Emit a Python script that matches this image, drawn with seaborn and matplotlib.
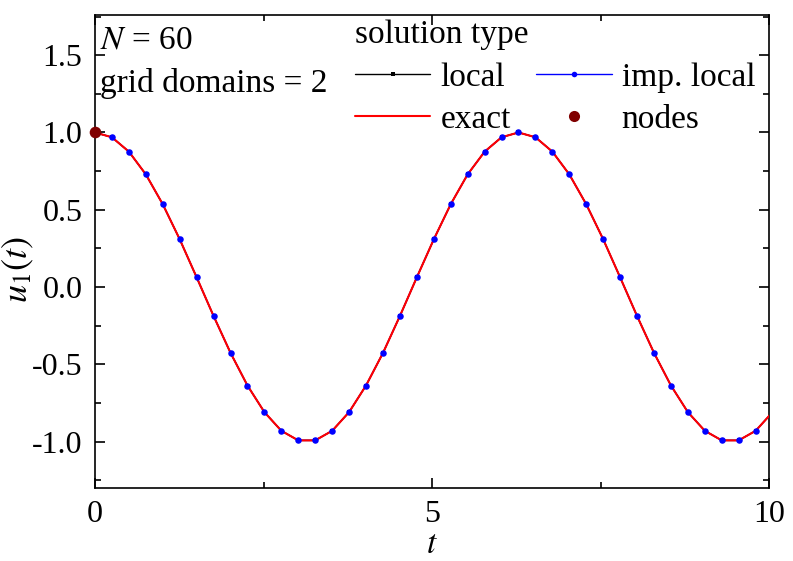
import matplotlib
matplotlib.use("Agg")
import matplotlib.pyplot as plt
from matplotlib.lines import Line2D
from matplotlib.ticker import MultipleLocator
import seaborn as sns
import pandas as pd

# ---- data ----
t_vals = [0.000, 0.251, 0.503, 0.754, 1.005, 1.257, 1.508, 1.759, 2.011, 2.262,
          2.513, 2.765, 3.016, 3.267, 3.519, 3.770, 4.021, 4.273, 4.524, 4.775,
          5.027, 5.278, 5.529, 5.781, 6.032, 6.283, 6.535, 6.786, 7.037, 7.288,
          7.540, 7.791, 8.042, 8.294, 8.545, 8.796, 9.048, 9.299, 9.550, 9.802,
          10.053]
u_local = [1.000, 0.969, 0.876, 0.729, 0.536, 0.309, 0.063, -0.187, -0.426, -0.637,
           -0.809, -0.930, -0.992, -0.992, -0.930, -0.809, -0.637, -0.426, -0.187, 0.063,
           0.309, 0.536, 0.729, 0.876, 0.969, 1.000, 0.969, 0.876, 0.729, 0.536,
           0.309, 0.063, -0.187, -0.426, -0.637, -0.809, -0.930, -0.992, -0.992, -0.930,
           -0.809]
u_imp_local = [1.000, 0.969, 0.876, 0.729, 0.536, 0.309, 0.063, -0.187, -0.426, -0.637,
               -0.809, -0.930, -0.992, -0.992, -0.930, -0.809, -0.637, -0.426, -0.187, 0.063,
               0.309, 0.536, 0.729, 0.876, 0.969, 1.000, 0.969, 0.876, 0.729, 0.536,
               0.309, 0.063, -0.187, -0.426, -0.637, -0.809, -0.930, -0.992, -0.992, -0.930,
               -0.809]
u_exact = [1.000, 0.969, 0.876, 0.729, 0.536, 0.309, 0.063, -0.187, -0.426, -0.637,
           -0.809, -0.930, -0.992, -0.992, -0.930, -0.809, -0.637, -0.426, -0.187, 0.063,
           0.309, 0.536, 0.729, 0.876, 0.969, 1.000, 0.969, 0.876, 0.729, 0.536,
           0.309, 0.063, -0.187, -0.426, -0.637, -0.809, -0.930, -0.992, -0.992, -0.930,
           -0.809]
t_nodes = [0.0]
u_nodes = [1.0]

legend_labels = ["local", "imp. local", "exact", "nodes"]
legend_title = "solution type"
info_lines = ["$N$ = 60", "grid domains = 2"]

df = pd.DataFrame({"t": t_vals, "local": u_local, "imp": u_imp_local, "exact": u_exact})
df_nodes = pd.DataFrame({"t": t_nodes, "u": u_nodes})

sns.set_style("white")
plt.rcParams["font.family"] = ["Liberation Serif", "DejaVu Serif"]
plt.rcParams["mathtext.fontset"] = "stix"
plt.rcParams["text.color"] = "black"
plt.rcParams["axes.labelcolor"] = "black"
plt.rcParams["xtick.color"] = "black"
plt.rcParams["ytick.color"] = "black"
FS = 24
TFS = 23

fig = plt.figure(figsize=(7.93, 5.61), dpi=100)
ax = fig.add_axes([95 / 793, 1 - 488 / 561, 674 / 793, 473 / 561])

sns.lineplot(data=df, x="t", y="local", ax=ax, color="black", lw=1.0,
             marker="s", markersize=3, markeredgewidth=0, zorder=2, sort=False)
sns.lineplot(data=df, x="t", y="imp", ax=ax, color="blue", lw=1.0, zorder=2.1, sort=False)
sns.lineplot(data=df, x="t", y="exact", ax=ax, color="red", lw=1.5, zorder=3, sort=False)
sns.scatterplot(data=df, x="t", y="imp", ax=ax, color="blue", s=22, linewidth=0, zorder=4)
sns.scatterplot(data=df_nodes, x="t", y="u", ax=ax, color="#800000", s=70,
                linewidth=0, zorder=5, clip_on=False)

ax.set_xlim(0, 10)
ax.set_ylim(-1.30, 1.76)
ax.xaxis.set_major_locator(MultipleLocator(5))
ax.xaxis.set_minor_locator(MultipleLocator(2.5))
ax.yaxis.set_major_locator(MultipleLocator(0.5))
ax.yaxis.set_minor_locator(MultipleLocator(0.25))
ax.tick_params(which="both", direction="in", top=True, right=True,
               bottom=True, left=True, width=1.2, labelsize=TFS, pad=9)
ax.tick_params(which="major", length=7)
ax.tick_params(which="minor", length=4)
ax.set_yticks([-1.0, -0.5, 0.0, 0.5, 1.0, 1.5])
ax.set_yticklabels(["-1.0", "-0.5", "0.0", "0.5", "1.0", "1.5"])
ax.set_xticks([0, 5, 10])
ax.set_xticklabels(["0", "5", "10"])
for s in ax.spines.values():
    s.set_linewidth(1.2)
    s.set_color("black")

ax.set_xlabel("$t$", fontsize=FS, labelpad=0)
ax.set_ylabel("$u_1(t)$", fontsize=26)
ax.yaxis.set_label_coords(-59 / 674, 0.462)

ax.text(0.008, 0.979, info_lines[0], transform=ax.transAxes, fontsize=FS, va="top", ha="left")
ax.text(0.008, 0.889, info_lines[1], transform=ax.transAxes, fontsize=FS, va="top", ha="left")

handles = [
    Line2D([], [], color="black", lw=1.0, marker="s", markersize=3, markeredgewidth=0),
    Line2D([], [], color="red", lw=1.5),
    Line2D([], [], color="blue", lw=1.0, marker="o", markersize=4, markeredgewidth=0),
    Line2D([], [], color="#800000", lw=0, marker="o", markersize=8, markeredgewidth=0),
]
labels = [legend_labels[0], legend_labels[2], legend_labels[1], legend_labels[3]]
leg = ax.legend(handles, labels, title=legend_title, ncol=2, frameon=False,
                loc="upper left", bbox_to_anchor=(0.383, 0.993), borderpad=0.05,
                borderaxespad=0, fontsize=FS, title_fontsize=FS, handlelength=2.27,
                handletextpad=0.3, columnspacing=0.75, labelspacing=0.35,
                alignment="left")

fig.savefig("out.png", dpi=100)
